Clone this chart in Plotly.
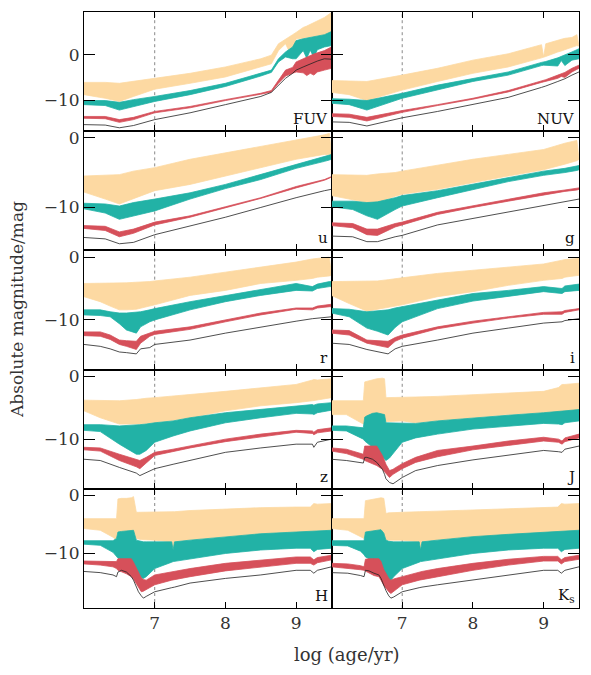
import plotly.graph_objects as go
from plotly.subplots import make_subplots

# ---------------- data (log age, absolute magnitude) ----------------
PANEL_NAMES = ["FUV", "NUV", "u", "g", "r", "i", "z", "J", "H", "K<sub>s</sub>"]

FUV_X = [6.0, 6.3, 6.5, 6.7, 7.0, 7.5, 8.0, 8.5, 8.65, 8.75, 8.85, 8.95, 9.0, 9.1, 9.15, 9.2, 9.25, 9.3, 9.4, 9.5]
FUV_O_HI = [-6.1, -6.1, -6.3, -5.9, -5.2, -4.1, -2.7, -0.9, -0.1, 2.4, 3.5, 4.4, 4.9, 6.0, 6.3, 6.7, 7.1, 7.5, 8.2, 9.3]
FUV_O_LO = [-8.8, -9.6, -10.3, -9.2, -7.6, -6.3, -4.9, -2.7, -2.0, 0.9, 2.4, -0.9, 3.5, 3.6, 3.7, 3.8, 3.95, 4.1, 4.4, 4.9]
FUV_T_HI = [-10.1, -10.1, -10.5, -9.9, -9.2, -7.9, -6.3, -4.1, -3.4, -0.9, 0.6, 1.7, 3.1, 3.5, 3.65, 3.8, 3.95, 4.1, 4.4, 5.1]
FUV_T_LO = [-11.0, -11.2, -12.2, -11.4, -10.3, -8.8, -7.0, -4.7, -3.9, -1.6, -0.5, -0.9, -0.9, 0.9, -0.8, 1.0, -0.6, 1.1, 1.7, 2.0]
FUV_R_HI = [-13.6, -13.6, -14.3, -13.8, -12.5, -11.4, -9.9, -8.5, -7.9, -5.6, -3.4, -2.8, -1.6, -0.9, -0.5, -0.1, 0.15, 0.4, 0.9, 1.7]
FUV_R_LO = [-14.0, -14.1, -14.9, -14.3, -12.8, -11.7, -10.1, -8.7, -8.2, -6.3, -4.7, -4.1, -3.8, -4.0, -4.6, -4.1, -4.5, -3.8, -3.4, -3.0]
FUV_K = [-15.4, -15.5, -16.1, -15.6, -14.3, -12.8, -11.0, -9.2, -8.3, -6.7, -5.2, -4.1, -3.4, -2.7, -2.35, -2.0, -1.7, -1.4, -0.9, -1.0]

NUV_X = [6.0, 6.25, 6.5, 7.0, 7.5, 8.0, 8.5, 8.97, 9.0, 9.03, 9.2, 9.25, 9.3, 9.4, 9.47, 9.5]
NUV_O_HI = [-5.7, -5.8, -5.9, -4.5, -3.0, -1.2, 0.2, 2.2, -0.5, 2.4, 3.3, 3.4, 3.6, 3.8, 4.4, 1.9]
NUV_O_LO = [-8.3, -8.8, -10.1, -7.8, -5.9, -4.1, -2.7, -0.7, -0.6, -0.4, 0.6, 0.8, 1.1, 1.7, 2.0, 1.9]
NUV_T_HI = [-9.7, -9.8, -10.1, -8.5, -6.7, -5.2, -3.8, -1.7, -1.6, -1.5, -0.7, -0.4, -0.1, 0.6, 1.1, 1.3]
NUV_T_LO = [-10.7, -11.0, -12.2, -9.6, -7.8, -5.9, -4.5, -2.4, -2.3, -2.2, -2.5, -1.3, -2.4, -1.2, -1.0, -0.9]
NUV_R_HI = [-13.0, -13.1, -13.8, -12.3, -11.0, -9.6, -7.9, -5.8, -5.6, -5.5, -4.5, -4.2, -3.9, -3.0, -2.5, -2.3]
NUV_R_LO = [-13.6, -13.8, -14.6, -12.7, -11.2, -9.8, -8.2, -6.1, -5.9, -5.8, -5.2, -4.8, -5.0, -3.8, -3.2, -3.0]
NUV_K = [-14.8, -14.9, -15.7, -13.9, -12.5, -11.0, -9.4, -7.2, -7.0, -6.9, -5.9, -5.6, -5.3, -4.5, -4.0, -3.8]

U_X = [6.0, 6.3, 6.5, 6.7, 7.0, 7.5, 8.0, 8.5, 9.0, 9.4, 9.47, 9.5]
U_O_HI = [-5.5, -5.4, -5.3, -4.8, -4.3, -3.1, -2.2, -1.3, -0.3, 0.4, 0.6, -2.4]
U_O_LO = [-7.8, -8.8, -9.5, -8.8, -7.6, -6.7, -5.5, -4.3, -3.1, -2.4, -2.4, -2.4]
U_T_HI = [-9.4, -9.5, -9.8, -9.3, -8.8, -7.9, -6.7, -5.3, -3.9, -2.8, -2.5, -2.4]
U_T_LO = [-10.2, -10.8, -11.7, -11.2, -10.5, -8.8, -7.3, -6.0, -4.4, -3.4, -3.2, -3.1]
U_R_HI = [-12.6, -12.7, -13.5, -13.1, -12.1, -11.2, -9.9, -8.6, -7.0, -6.0, -5.7, -5.6]
U_R_LO = [-13.0, -13.3, -14.2, -13.7, -12.5, -11.4, -10.1, -8.7, -7.2, -6.1, -5.8, -5.7]
U_K = [-14.3, -14.5, -15.2, -15.0, -13.9, -12.7, -11.4, -10.0, -8.6, -7.6, -7.5, -7.4]

G_X = [6.0, 6.3, 6.5, 6.65, 6.9, 7.0, 7.5, 8.0, 8.5, 9.0, 9.3, 9.47, 9.5]
G_O_HI = [-5.3, -5.4, -5.4, -5.2, -5.0, -4.8, -3.9, -3.1, -2.4, -1.7, -0.8, -0.4, -3.1]
G_O_LO = [-8.3, -8.9, -9.3, -9.3, -8.4, -8.1, -7.4, -6.4, -5.5, -4.6, -3.8, -3.3, -3.1]
G_T_HI = [-9.1, -9.1, -9.3, -9.2, -8.6, -8.3, -7.6, -6.7, -5.8, -4.8, -4.4, -4.1, -4.0]
G_T_LO = [-9.9, -10.3, -11.2, -11.7, -10.3, -9.8, -8.6, -7.4, -6.3, -5.4, -5.0, -4.7, -4.6]
G_R_HI = [-12.2, -12.3, -13.1, -13.1, -12.3, -12.1, -10.7, -9.8, -8.8, -7.9, -7.5, -7.3, -7.2]
G_R_LO = [-12.6, -12.9, -13.9, -14.0, -12.8, -12.5, -11.0, -10.0, -9.1, -8.2, -7.7, -7.5, -7.4]
G_K = [-14.1, -14.2, -14.9, -14.9, -14.2, -14.0, -12.5, -11.6, -10.6, -9.7, -9.2, -8.9, -8.8]

R_X = [6.0, 6.23, 6.37, 6.5, 6.6, 6.74, 6.8, 6.93, 7.0, 7.5, 8.0, 8.5, 9.0, 9.23, 9.3, 9.47, 9.5]
R_O_HI = [-4.2, -4.2, -4.2, -4.2, -4.1, -4.0, -4.0, -3.9, -3.8, -3.2, -2.4, -1.6, -0.8, -0.3, -0.2, 0.0, -2.9]
R_O_LO = [-6.3, -7.1, -7.8, -8.4, -8.4, -8.3, -8.2, -7.8, -7.6, -6.1, -5.3, -4.2, -3.7, -3.4, -3.2, -3.0, -2.9]
R_T_HI = [-8.4, -8.4, -8.7, -8.9, -8.9, -8.8, -8.7, -8.4, -8.2, -7.1, -6.1, -5.1, -4.2, -4.7, -4.3, -3.9, -3.9]
R_T_LO = [-9.2, -9.3, -9.5, -10.6, -11.6, -12.1, -11.1, -10.3, -10.0, -8.4, -7.1, -6.1, -5.3, -5.4, -5.0, -4.7, -4.7]
R_R_HI = [-11.9, -11.9, -12.4, -13.2, -13.3, -13.4, -12.6, -12.0, -11.8, -11.1, -10.0, -8.9, -8.1, -8.1, -7.8, -7.5, -7.5]
R_R_LO = [-12.5, -12.6, -13.1, -13.9, -14.2, -14.7, -13.7, -12.6, -12.3, -11.5, -10.3, -9.2, -8.3, -8.4, -8.1, -7.9, -7.9]
R_K = [-13.9, -14.2, -14.6, -15.1, -15.2, -15.4, -14.6, -14.4, -13.9, -13.2, -12.1, -11.1, -10.2, -9.8, -9.7, -9.5, -9.5]

I_X = [6.0, 6.25, 6.5, 6.65, 6.8, 6.9, 7.0, 7.5, 8.0, 8.5, 9.0, 9.26, 9.3, 9.5]
I_O_HI = [-3.9, -3.9, -3.9, -3.8, -3.6, -3.4, -3.3, -2.6, -2.1, -1.6, -1.1, -0.5, -0.4, -0.2]
I_O_LO = [-6.1, -7.4, -8.6, -8.4, -8.0, -7.8, -7.6, -6.3, -5.5, -4.5, -3.7, -3.4, -3.2, -2.9]
I_T_HI = [-8.2, -8.3, -8.7, -8.6, -8.4, -8.1, -7.9, -6.8, -5.8, -5.3, -4.7, -5.0, -4.6, -4.3]
I_T_LO = [-8.9, -9.5, -11.3, -11.8, -12.4, -11.2, -10.3, -8.2, -7.0, -6.2, -5.5, -5.8, -5.5, -5.3]
I_R_HI = [-11.6, -11.7, -13.2, -13.3, -13.4, -12.8, -12.4, -11.1, -10.2, -9.5, -8.8, -8.7, -8.5, -8.2]
I_R_LO = [-12.1, -12.4, -13.7, -14.0, -14.4, -13.4, -12.9, -11.4, -10.5, -9.7, -9.1, -9.1, -8.8, -8.4]
I_K = [-13.7, -13.9, -14.7, -15.0, -15.4, -14.6, -14.2, -13.2, -12.1, -11.3, -10.5, -10.3, -10.1, -9.8]

Z_X = [6.0, 6.23, 6.5, 6.74, 6.79, 6.88, 7.0, 7.26, 7.5, 8.0, 8.5, 9.0, 9.23, 9.25, 9.3, 9.5]
Z_O_HI = [-3.8, -3.8, -3.9, -3.7, -3.6, -3.5, -3.4, -3.2, -2.9, -2.4, -1.8, -1.3, -0.6, -0.5, -0.6, -0.4]
Z_O_LO = [-5.5, -6.6, -7.6, -7.6, -7.6, -7.5, -7.4, -7.0, -6.6, -5.5, -4.7, -4.2, -3.9, -3.9, -3.8, -3.4]
Z_T_HI = [-7.7, -7.7, -7.9, -7.8, -7.7, -7.6, -7.4, -7.1, -6.6, -5.8, -5.3, -4.7, -4.5, -4.6, -4.4, -4.2]
Z_T_LO = [-8.6, -8.8, -10.8, -12.4, -12.4, -11.8, -10.5, -9.5, -8.7, -7.4, -6.6, -5.9, -6.0, -6.1, -5.8, -5.4]
Z_R_HI = [-11.3, -11.4, -12.4, -13.2, -13.4, -12.9, -12.1, -11.6, -11.1, -10.0, -9.2, -8.6, -8.7, -8.9, -8.5, -8.2]
Z_R_LO = [-11.7, -11.9, -13.4, -14.4, -14.7, -13.8, -12.6, -12.0, -11.4, -10.4, -9.6, -8.9, -9.1, -9.3, -9.0, -8.7]
Z_K = [-13.2, -13.4, -14.5, -15.4, -15.8, -15.3, -14.7, -14.0, -13.4, -12.1, -11.4, -10.8, -10.8, -11.3, -10.5, -10.0]

J_X = [6.0, 6.21, 6.45, 6.47, 6.5, 6.58, 6.64, 6.72, 6.75, 6.77, 6.82, 6.87, 6.91, 7.0, 7.19, 7.5, 8.0, 8.5, 9.0, 9.21, 9.26, 9.3, 9.5]
J_O_HI = [-3.9, -3.9, -3.9, -0.9, -0.8, -0.5, -0.4, -0.3, -0.4, -3.4, -3.4, -3.4, -3.4, -3.4, -3.3, -3.2, -2.9, -2.6, -2.4, -1.8, -1.3, -1.3, -1.1]
J_O_LO = [-6.1, -6.1, -7.6, -7.0, -6.5, -6.0, -6.0, -6.2, -6.6, -7.2, -7.2, -7.2, -7.2, -7.1, -7.4, -7.1, -6.6, -6.1, -5.8, -5.8, -5.7, -5.6, -5.3]
J_T_HI = [-7.9, -7.9, -8.2, -6.5, -6.3, -5.9, -5.8, -6.0, -6.1, -7.4, -7.4, -7.4, -7.4, -7.4, -7.5, -7.1, -6.6, -6.2, -5.8, -5.6, -5.5, -5.5, -5.3]
J_T_LO = [-8.6, -8.7, -10.0, -10.3, -10.6, -11.3, -12.0, -12.8, -13.2, -13.4, -13.0, -12.4, -11.8, -10.5, -9.8, -9.2, -8.4, -7.9, -7.5, -7.6, -7.7, -7.4, -7.1]
J_R_HI = [-11.4, -11.6, -12.4, -11.1, -11.1, -11.1, -11.1, -12.6, -13.4, -14.0, -15.0, -14.8, -14.5, -13.9, -12.9, -11.8, -11.1, -10.3, -9.7, -10.0, -10.3, -9.8, -9.2]
J_R_LO = [-11.9, -12.3, -13.2, -13.4, -13.6, -13.9, -14.2, -14.8, -15.2, -15.5, -16.1, -15.6, -15.3, -14.7, -13.7, -12.8, -11.7, -11.0, -10.3, -10.5, -10.8, -10.4, -9.8]
J_K = [-13.2, -13.4, -13.8, -12.9, -12.9, -13.2, -13.7, -14.8, -15.6, -16.3, -16.9, -17.1, -16.8, -16.1, -15.0, -14.2, -13.3, -12.6, -11.8, -12.0, -12.1, -11.6, -11.1]

H_X = [6.0, 6.23, 6.41, 6.46, 6.48, 6.53, 6.6, 6.67, 6.70, 6.74, 6.77, 6.81, 6.84, 6.88, 7.0, 7.24, 7.26, 7.28, 7.5, 8.0, 8.5, 9.0, 9.2, 9.25, 9.3, 9.5]
H_O_HI = [-4.0, -4.0, -4.0, -4.0, -0.6, -0.5, -0.5, -0.4, -0.2, -2.9, -2.9, -2.9, -2.9, -2.9, -2.9, -2.8, -2.8, -2.8, -2.6, -2.3, -2.1, -2.0, -2.0, -1.4, -1.5, -1.4]
H_O_LO = [-5.7, -6.0, -7.2, -7.7, -6.5, -6.4, -6.3, -6.2, -6.2, -7.4, -7.5, -7.6, -7.6, -7.7, -7.7, -8.0, -9.4, -7.9, -7.7, -7.1, -6.6, -6.3, -6.2, -6.2, -6.1, -6.0]
H_T_HI = [-7.8, -7.8, -7.8, -7.4, -6.3, -6.2, -6.1, -6.0, -6.0, -7.7, -7.8, -7.9, -8.0, -8.0, -8.0, -8.0, -9.4, -8.0, -7.7, -7.1, -6.6, -6.3, -6.2, -6.2, -6.1, -6.0]
H_T_LO = [-8.4, -8.6, -9.8, -10.5, -10.8, -11.1, -11.8, -12.6, -12.9, -13.3, -13.7, -14.2, -14.3, -14.0, -12.6, -11.5, -11.4, -11.3, -10.9, -10.0, -9.4, -9.1, -9.1, -9.7, -9.3, -9.1]
H_R_HI = [-11.3, -11.3, -11.3, -11.4, -10.9, -10.9, -10.9, -10.9, -11.5, -12.5, -13.4, -14.2, -14.5, -14.6, -13.7, -13.2, -13.1, -13.1, -12.6, -11.7, -11.1, -10.6, -10.6, -11.1, -10.7, -10.3]
H_R_LO = [-11.8, -12.0, -12.3, -12.6, -12.9, -13.1, -13.5, -14.0, -14.4, -15.2, -15.9, -16.6, -16.5, -16.3, -15.4, -14.6, -14.6, -14.5, -14.0, -13.0, -12.3, -11.7, -11.7, -12.0, -11.6, -11.1]
H_K = [-13.1, -13.3, -13.7, -14.0, -13.2, -12.9, -13.2, -14.0, -14.6, -15.8, -16.6, -17.3, -17.7, -17.4, -16.6, -15.9, -15.8, -15.8, -15.1, -14.3, -13.7, -12.9, -12.9, -13.4, -12.9, -12.3]

KS_X = [6.0, 6.23, 6.41, 6.46, 6.48, 6.53, 6.6, 6.67, 6.70, 6.74, 6.77, 6.81, 6.84, 6.88, 7.0, 7.24, 7.26, 7.28, 7.5, 8.0, 8.5, 9.0, 9.2, 9.25, 9.3, 9.5]
KS_O_HI = [-4.0, -4.0, -4.0, -4.0, -0.9, -0.8, -0.6, -0.5, -0.4, -0.5, -3.1, -3.0, -3.0, -2.9, -2.9, -2.8, -2.8, -2.8, -2.7, -2.5, -2.3, -2.1, -2.0, -1.4, -1.5, -1.4]
KS_O_LO = [-5.7, -6.0, -7.1, -7.4, -6.5, -6.4, -6.3, -6.2, -6.2, -6.5, -7.7, -7.7, -7.7, -7.7, -7.7, -8.0, -9.4, -7.9, -7.7, -7.1, -6.9, -6.5, -6.3, -6.3, -6.2, -6.0]
KS_T_HI = [-7.8, -7.8, -7.8, -7.8, -6.3, -6.2, -6.0, -5.9, -5.9, -6.5, -7.7, -7.9, -8.0, -8.0, -8.0, -8.0, -9.4, -8.0, -7.7, -7.1, -6.7, -6.3, -6.2, -6.2, -6.1, -6.0]
KS_T_LO = [-8.6, -8.7, -9.6, -10.2, -10.6, -10.9, -11.6, -12.4, -12.9, -13.5, -14.0, -14.5, -14.6, -14.0, -12.6, -11.5, -11.4, -11.3, -10.9, -10.0, -9.4, -9.1, -9.1, -9.7, -9.3, -9.1]
KS_R_HI = [-11.7, -11.8, -12.1, -12.3, -11.0, -10.9, -10.9, -10.9, -11.4, -12.8, -13.4, -14.3, -14.6, -14.4, -14.0, -13.2, -13.1, -13.1, -12.6, -11.7, -11.0, -10.5, -10.5, -11.1, -10.7, -10.3]
KS_R_LO = [-12.3, -12.6, -12.8, -12.9, -13.1, -13.4, -13.8, -14.0, -14.6, -15.5, -16.0, -16.6, -16.9, -16.5, -15.4, -14.6, -14.6, -14.5, -14.0, -12.9, -12.0, -11.3, -11.3, -11.8, -11.4, -11.0]
KS_K = [-13.3, -13.4, -13.8, -14.0, -12.9, -13.0, -13.4, -13.7, -14.3, -15.6, -16.4, -17.3, -17.7, -17.5, -16.6, -15.9, -15.8, -15.8, -15.4, -14.6, -13.7, -12.9, -12.9, -13.4, -12.9, -12.3]

X_RANGE = [6.0, 9.5]
X_TICKS = [7, 8, 9]
Y_TICKS = [0, -10]
Y_TICKTEXT = ["0", "\u221210"]
ROW_YRANGES = [[-16.85, 9.4], [-16.15, 0.92], [-17.9, 1.06], [-17.9, 1.06], [-19.4, 1.15]]
MARK_AGE = 7.0

PANELS = [
    (FUV_X, FUV_O_HI, FUV_O_LO, FUV_T_HI, FUV_T_LO, FUV_R_HI, FUV_R_LO, FUV_K),
    (NUV_X, NUV_O_HI, NUV_O_LO, NUV_T_HI, NUV_T_LO, NUV_R_HI, NUV_R_LO, NUV_K),
    (U_X, U_O_HI, U_O_LO, U_T_HI, U_T_LO, U_R_HI, U_R_LO, U_K),
    (G_X, G_O_HI, G_O_LO, G_T_HI, G_T_LO, G_R_HI, G_R_LO, G_K),
    (R_X, R_O_HI, R_O_LO, R_T_HI, R_T_LO, R_R_HI, R_R_LO, R_K),
    (I_X, I_O_HI, I_O_LO, I_T_HI, I_T_LO, I_R_HI, I_R_LO, I_K),
    (Z_X, Z_O_HI, Z_O_LO, Z_T_HI, Z_T_LO, Z_R_HI, Z_R_LO, Z_K),
    (J_X, J_O_HI, J_O_LO, J_T_HI, J_T_LO, J_R_HI, J_R_LO, J_K),
    (H_X, H_O_HI, H_O_LO, H_T_HI, H_T_LO, H_R_HI, H_R_LO, H_K),
    (KS_X, KS_O_HI, KS_O_LO, KS_T_HI, KS_T_LO, KS_R_HI, KS_R_LO, KS_K),
]

# ---------------- styles ----------------
ORANGE = "#FDD9A2"
TEAL = "#22B2A6"
RED = "#D6505A"
FONT = "DejaVu Serif"
TICKFONT = dict(family=FONT, size=17, color="#333333")

fig = make_subplots(rows=5, cols=2, horizontal_spacing=0, vertical_spacing=0)


def band(x, hi, lo, color, row, col):
    fig.add_trace(go.Scatter(
        x=list(x) + list(x)[::-1], y=list(hi) + list(lo)[::-1],
        fill="toself", fillcolor=color, mode="lines",
        line=dict(color=color, width=0.8), hoverinfo="skip", showlegend=False),
        row=row, col=col)


for k, (x, ohi, olo, thi, tlo, rhi, rlo, blk) in enumerate(PANELS):
    row, col = k // 2 + 1, k % 2 + 1
    band(x, ohi, olo, ORANGE, row, col)
    band(x, thi, tlo, TEAL, row, col)
    band(x, rhi, rlo, RED, row, col)
    fig.add_trace(go.Scatter(x=x, y=blk, mode="lines",
                             line=dict(color="#222222", width=0.8),
                             hoverinfo="skip", showlegend=False), row=row, col=col)
    yr = ROW_YRANGES[row - 1]
    fig.add_shape(type="line", x0=MARK_AGE, x1=MARK_AGE, y0=yr[0], y1=yr[1],
                  line=dict(color="#888888", width=1, dash="dot"), layer="below",
                  row=row, col=col)
    fig.update_xaxes(range=X_RANGE, tickvals=X_TICKS, ticks="inside", ticklen=6,
                     tickcolor="black", tickwidth=1, showline=True, linecolor="black",
                     linewidth=1, mirror="allticks", showgrid=False, zeroline=False,
                     showticklabels=(row == 5), tickfont=TICKFONT,
                     row=row, col=col)
    fig.update_yaxes(range=yr, tickvals=Y_TICKS, ticktext=Y_TICKTEXT, ticks="inside",
                     ticklen=11, tickcolor="black", tickwidth=1, showline=True,
                     linecolor="black", linewidth=1, mirror="allticks",
                     showgrid=False, zeroline=False, showticklabels=(col == 1),
                     tickfont=TICKFONT, row=row, col=col)
    xref = fig.get_subplot(row, col).xaxis.plotly_name.replace("axis", "")
    yref = fig.get_subplot(row, col).yaxis.plotly_name.replace("axis", "")
    fig.add_annotation(text=PANEL_NAMES[k], x=1, y=0, xref=f"{xref} domain",
                       yref=f"{yref} domain", xanchor="right", yanchor="bottom",
                       xshift=-2, yshift=1, showarrow=False,
                       font=dict(family=FONT, size=15, color="#111111"))

fig.add_annotation(text="Absolute magnitude/mag", xref="paper", yref="paper",
                   x=(17 - 84) / 495, y=0.5, textangle=-90, showarrow=False,
                   xanchor="center", yanchor="middle",
                   font=dict(family=FONT, size=17, color="#333333"))
fig.add_annotation(text="log (age/yr)", xref="paper", yref="paper",
                   x=(347 - 84) / 495, y=(608 - 655) / 600, showarrow=False,
                   xanchor="center", yanchor="middle",
                   font=dict(family=FONT, size=18, color="#333333"))

fig.update_layout(width=591, height=675, margin=dict(l=84, r=12, t=8, b=67),
                  font=dict(family=FONT, size=17, color="#333333"),
                  paper_bgcolor="white", plot_bgcolor="white", showlegend=False)
fig.write_html("out.html")
